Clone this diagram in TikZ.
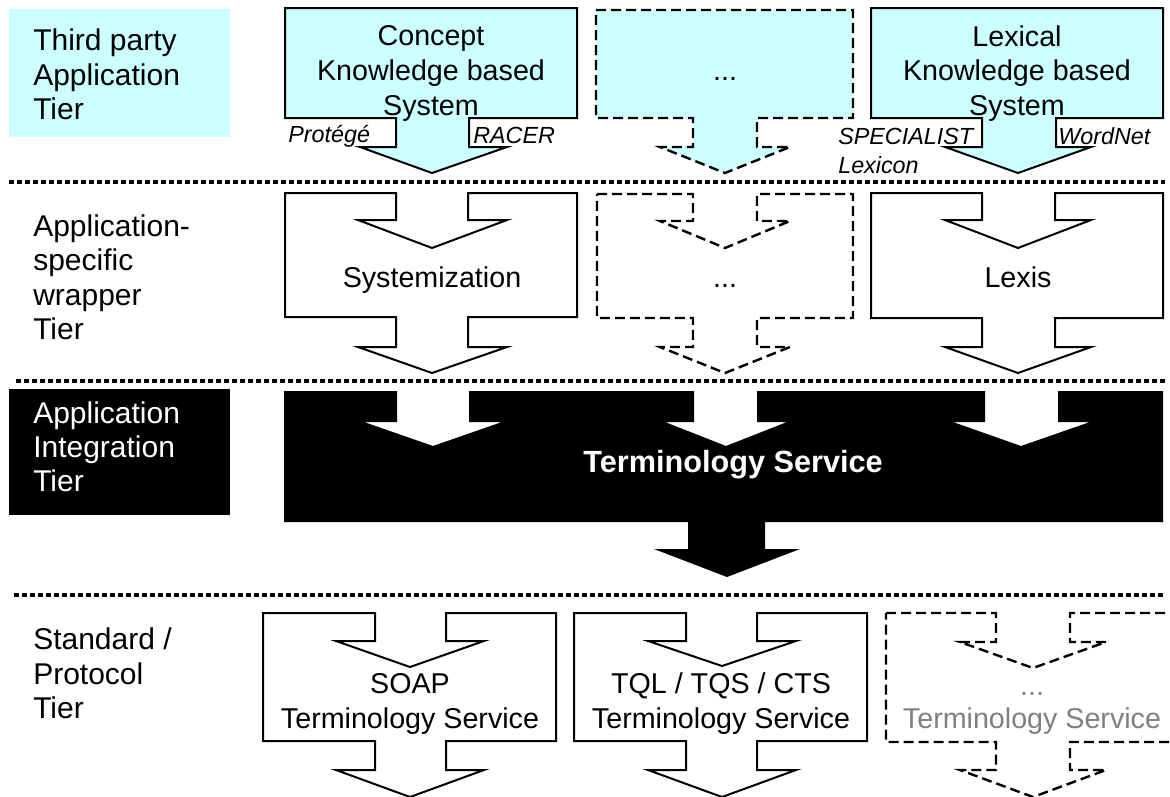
\documentclass[tikz,border=0pt]{standalone}
\usepackage{fontspec}
\setmainfont{Liberation Sans}
\definecolor{lcyan}{HTML}{CCFFFF}
\definecolor{ghost}{HTML}{808080}
\begin{document}
\begin{tikzpicture}[x=0.75pt,y=-0.75pt,
  boxline/.style={draw=black, line width=1.5pt, line join=miter},
  dashline/.style={draw=black, line width=1.8pt, dash pattern=on 7.5pt off 3.75pt},
  sepline/.style={draw=black, line width=3pt, dash pattern=on 3.75pt off 2.25pt},
  bt/.style={font=\fontsize{21.5}{25}\selectfont, inner sep=0pt, anchor=base},
  lt/.style={font=\fontsize{22.5}{26}\selectfont, inner sep=0pt, anchor=base west},
  it/.style={font=\fontsize{17.5}{20}\selectfont\itshape, inner sep=0pt, anchor=base west}]
\useasboundingbox (0,0) rectangle (1170,796);
\clip (0,0) rectangle (1170,796);

% tier label backgrounds
\fill[lcyan] (9,9) rectangle (230,137);
\fill[black] (9,389) rectangle (230,515);

% separators
\draw[sepline] (9,182) -- (1165,182);
\draw[sepline] (16,381) -- (1165,381);
\draw[sepline] (14,595) -- (1165,595);

% third party tier
\draw[boxline, fill=lcyan] (285,8) -- (577,8) -- (577,118) -- (469,118) -- (469,147) -- (507,147) -- (432,173) -- (360,147) -- (396,147) -- (396,118) -- (285,118) -- cycle;
\draw[dashline, fill=lcyan] (596,10) -- (853,10) -- (853,118) -- (757,118) -- (757,147) -- (790,147) -- (725,173) -- (660,147) -- (693,147) -- (693,118) -- (596,118) -- cycle;
\draw[boxline, fill=lcyan] (871,8) -- (1163,8) -- (1163,118) -- (1056,118) -- (1056,147) -- (1091,147) -- (1018,173) -- (945,147) -- (982,147) -- (982,118) -- (871,118) -- cycle;

% wrapper tier
\draw[boxline, fill=white] (285,193) -- (396,193) -- (396,220) -- (358,220) -- (432,248) -- (507,220) -- (468,220) -- (468,193) -- (577,193) -- (577,317) -- (468,317) -- (468,347) -- (507,347) -- (432,373) -- (358,347) -- (396,347) -- (396,317) -- (285,317) -- cycle;
\draw[dashline, fill=white] (597,194) -- (693,194) -- (693,221) -- (660,221) -- (725,248) -- (790,221) -- (757,221) -- (757,194) -- (853,194) -- (853,318) -- (757,318) -- (757,347) -- (790,347) -- (725,373) -- (660,347) -- (693,347) -- (693,318) -- (597,318) -- cycle;
\draw[boxline, fill=white] (871,193) -- (982,193) -- (982,220) -- (945,220) -- (1018,248) -- (1091,220) -- (1055,220) -- (1055,193) -- (1163,193) -- (1163,318) -- (1055,318) -- (1055,347) -- (1091,347) -- (1018,373) -- (945,347) -- (982,347) -- (982,318) -- (871,318) -- cycle;

% integration tier
\fill[black] (284,391) -- (397,391) -- (397,422) -- (364,422) -- (433,446) -- (502,422) -- (469,422) -- (469,391) -- (694,391) -- (694,422) -- (665,422) -- (726,446) -- (787,422) -- (757,422) -- (757,391) -- (985,391) -- (985,422) -- (953,422) -- (1021,446) -- (1090,422) -- (1058,422) -- (1058,391) -- (1163,391) -- (1163,522) -- (765,522) -- (765,549) -- (800,549) -- (727,577) -- (654,549) -- (688,549) -- (688,522) -- (284,522) -- cycle;

% standard tier
\draw[boxline, fill=white] (263,613) -- (375,613) -- (375,641) -- (336,641) -- (410,667) -- (484,641) -- (446,641) -- (446,613) -- (556,613) -- (556,741) -- (446,741) -- (446,770) -- (484,770) -- (410,797) -- (336,770) -- (375,770) -- (375,741) -- (263,741) -- cycle;
\draw[boxline, fill=white] (574,613) -- (686,613) -- (686,641) -- (648,641) -- (722,666) -- (796,641) -- (757,641) -- (757,613) -- (867,613) -- (867,741) -- (757,741) -- (757,770) -- (796,770) -- (722,797) -- (648,770) -- (686,770) -- (686,741) -- (574,741) -- cycle;
\draw[dashline, fill=white] (886,613) -- (996,613) -- (996,642) -- (960,642) -- (1033,668) -- (1106,642) -- (1070,642) -- (1070,613) -- (1180,613) -- (1180,742) -- (1070,742) -- (1070,770) -- (1106,770) -- (1033,797) -- (960,770) -- (996,770) -- (996,742) -- (886,742) -- cycle;

% tier labels
\node[lt] (l1a) at (33,50) {Third party};
\node[lt] (l1b) at (33,85) {Application};
\node[lt] (l1c) at (33,119) {Tier};
\node[lt] (l2a) at (33,236) {Application-};
\node[lt] (l2b) at (33,270) {specific};
\node[lt] (l2c) at (33,305) {wrapper};
\node[lt] (l2d) at (33,339) {Tier};
\node[lt, text=white] (l3a) at (33,423) {Application};
\node[lt, text=white] (l3b) at (33,457) {Integration};
\node[lt, text=white] (l3c) at (33,491) {Tier};
\node[lt] (l4a) at (33,649) {Standard /};
\node[lt] (l4b) at (33,684) {Protocol};
\node[lt] (l4c) at (33,718) {Tier};

% box texts
\node[bt] (c1) at (431,45) {Concept};
\node[bt] (c2) at (431,80) {Knowledge based};
\node[bt] (c3) at (431,115) {System};
\node[bt] (e1) at (725,80) {...};
\node[bt] (k1) at (1017,46) {Lexical};
\node[bt] (k2) at (1017,80) {Knowledge based};
\node[bt] (k3) at (1017,115) {System};
\node[it] (pr) at (288,142) {Protégé};
\node[it] (ra) at (473,143) {RACER};
\node[it] (sp) at (838,144) {SPECIALIST};
\node[it] (lx) at (838,173) {Lexicon};
\node[it] (wn) at (1058,144) {WordNet};
\node[bt] (sy) at (432,287) {Systemization};
\node[bt] (e2) at (725,287) {...};
\node[bt] (le) at (1018,287) {Lexis};
\node[bt, font=\fontsize{23}{27}\selectfont\bfseries, text=white] (ts) at (733,472) {Terminology Service};
\node[bt] (so1) at (410,693) {SOAP};
\node[bt] (so2) at (410,728) {Terminology Service};
\node[bt] (tq1) at (721,693) {TQL / TQS / CTS};
\node[bt] (tq2) at (721,728) {Terminology Service};
\node[bt, text=ghost] (gh1) at (1032,695) {...};
\node[bt, text=ghost] (gh2) at (1032,728) {Terminology Service};
\end{tikzpicture}
\end{document}
